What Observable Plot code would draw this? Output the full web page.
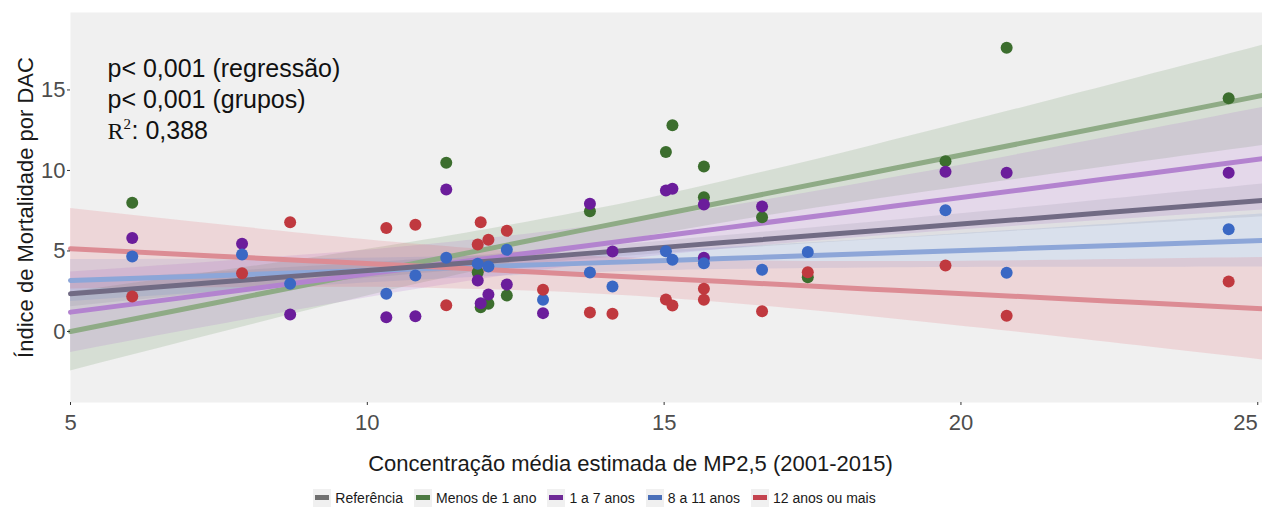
<!DOCTYPE html>
<html><head><meta charset="utf-8">
<script src="https://cdn.jsdelivr.net/npm/d3@7"></script>
<script src="https://cdn.jsdelivr.net/npm/@observablehq/plot@0.6"></script>
<style>
body{margin:0;background:#fff;font-family:"Liberation Sans",Arial,sans-serif;}
#chart svg{display:block;overflow:visible;}
#legend{display:flex;justify-content:center;align-items:center;height:31px;padding-top:4px;font-size:14px;color:#1a1a1a;padding-right:62px;}
.item{display:flex;align-items:center;margin-right:11px;}
.key{width:18px;height:18px;background:#f0f0f0;display:flex;align-items:center;justify-content:center;margin-right:4px;}
.key span{width:14px;height:5px;display:block;}
</style></head><body><div id="chart"></div><div id="legend"></div>
<script>
// ---- data ----
const groups = ["Referência", "Menos de 1 ano", "1 a 7 anos", "8 a 11 anos", "12 anos ou mais"];
const xTicks = [5, 10, 15, 20, 25];
const yTicks = [0, 5, 10, 15];

// observed points (MP2,5 concentration, mortality index)
const menos1X = [6.04, 11.33, 11.86, 11.91, 12.04, 12.35, 13.75, 15.03, 15.14, 15.67, 15.67, 16.65, 17.42, 19.74, 20.77, 24.51];
const menos1Y = [8.0, 10.48, 3.68, 1.51, 1.72, 2.24, 7.47, 11.14, 12.81, 10.25, 8.34, 7.10, 3.37, 10.58, 17.62, 14.49];
const a1a7X = [6.04, 7.89, 8.70, 10.32, 10.81, 11.33, 11.86, 11.91, 12.04, 12.35, 12.96, 13.75, 14.13, 15.03, 15.14, 15.67, 15.67, 16.65, 19.74, 20.77, 24.51];
const a1a7Y = [5.80, 5.45, 1.06, 0.89, 0.95, 8.82, 3.17, 1.76, 2.30, 2.92, 1.14, 7.93, 4.97, 8.76, 8.86, 7.89, 4.58, 7.76, 9.92, 9.86, 9.86];
const a8a11X = [6.04, 7.89, 8.70, 10.32, 10.81, 11.33, 11.86, 12.04, 12.35, 12.96, 13.75, 14.13, 15.03, 15.14, 15.67, 16.65, 17.42, 19.74, 20.77, 24.51];
const a8a11Y = [4.66, 4.78, 2.96, 2.34, 3.48, 4.58, 4.20, 4.04, 5.07, 1.97, 3.66, 2.80, 4.99, 4.45, 4.24, 3.83, 4.93, 7.53, 3.65, 6.35];
const a12X = [6.04, 7.89, 8.70, 10.32, 10.81, 11.33, 11.86, 11.91, 12.04, 12.35, 12.96, 13.75, 14.13, 15.03, 15.14, 15.67, 15.67, 16.65, 17.42, 19.74, 20.77, 24.51];
const a12Y = [2.17, 3.62, 6.79, 6.42, 6.63, 1.63, 5.40, 6.79, 5.70, 6.25, 2.59, 1.18, 1.10, 1.99, 1.61, 2.65, 1.97, 1.26, 3.68, 4.10, 0.98, 3.11];

// fitted lines and 95% bands
const fitX = [5, 7, 9, 11, 13.6, 16, 18.5, 21, 23, 25.08];
const refFit = [2.34, 2.92, 3.50, 4.07, 4.82, 5.52, 6.24, 6.96, 7.54, 8.14];
const refLo  = [1.54, 2.26, 2.97, 3.64, 4.45, 5.10, 5.69, 6.25, 6.68, 7.12];
const refHi  = [3.14, 3.58, 4.03, 4.50, 5.19, 5.94, 6.79, 7.67, 8.40, 9.16];
const menos1Fit = [0.00, 1.46, 2.92, 4.38, 6.28, 8.03, 9.86, 11.68, 13.14, 14.66];
const menos1Lo  = [-2.45, -0.56, 1.30, 3.07, 5.14, 6.74, 8.18, 9.49, 10.51, 11.55];
const menos1Hi  = [2.45, 3.48, 4.54, 5.69, 7.42, 9.32, 11.54, 13.87, 15.77, 17.77];
const a1a7Fit = [1.20, 2.15, 3.10, 4.05, 5.28, 6.42, 7.61, 8.79, 9.74, 10.73];
const a1a7Lo  = [-1.30, 0.09, 1.44, 2.71, 4.12, 5.11, 5.90, 6.56, 7.05, 7.55];
const a1a7Hi  = [3.70, 4.21, 4.76, 5.39, 6.44, 7.73, 9.32, 11.02, 12.43, 13.91];
const a8a11Fit = [3.17, 3.42, 3.66, 3.91, 4.23, 4.53, 4.84, 5.15, 5.39, 5.65];
const a8a11Lo  = [1.87, 2.35, 2.80, 3.21, 3.63, 3.85, 3.95, 3.99, 3.99, 4.00];
const a8a11Hi  = [4.47, 4.49, 4.52, 4.61, 4.83, 5.21, 5.73, 6.31, 6.79, 7.30];
const a12Fit = [5.14, 4.77, 4.40, 4.03, 3.54, 3.10, 2.63, 2.17, 1.80, 1.41];
const a12Lo  = [2.64, 2.71, 2.74, 2.69, 2.38, 1.79, 0.92, -0.06, -0.89, -1.77];
const a12Hi  = [7.64, 6.83, 6.06, 5.37, 4.70, 4.41, 4.34, 4.40, 4.49, 4.59];

const annotation = ["p< 0,001 (regressão)", "p< 0,001 (grupos)", ": 0,388"];
const xTitle = "Concentração média estimada de MP2,5 (2001-2015)";
const yTitle = "Índice de Mortalidade por DAC";

// ---- styles ----
const pointColor = {"Menos de 1 ano": "#3c6e2e", "1 a 7 anos": "#6b1d9b", "8 a 11 anos": "#3a68c4", "12 anos ou mais": "#c0393f"};
const lineColor = {"Referência": "#716b84", "Menos de 1 ano": "#8fab86", "1 a 7 anos": "#b383cf", "8 a 11 anos": "#8da6d8", "12 anos ou mais": "#dc8c94"};
const bandColor = {"Referência": "#6a6a80", "Menos de 1 ano": "#5a8a4e", "1 a 7 anos": "#a050c8", "8 a 11 anos": "#5a86d8", "12 anos ou mais": "#e05a66"};
const bandOpacity = {"Referência": 0.13, "Menos de 1 ano": 0.17, "1 a 7 anos": 0.15, "8 a 11 anos": 0.15, "12 anos ou mais": 0.17};
const keyColor = {"Referência": "#707070", "Menos de 1 ano": "#4d7a43", "1 a 7 anos": "#6e2a96", "8 a 11 anos": "#4a6fb8", "12 anos ou mais": "#c4434f"};

// ---- tables ----
const fits = {
  "Referência": [refFit, refLo, refHi],
  "Menos de 1 ano": [menos1Fit, menos1Lo, menos1Hi],
  "1 a 7 anos": [a1a7Fit, a1a7Lo, a1a7Hi],
  "8 a 11 anos": [a8a11Fit, a8a11Lo, a8a11Hi],
  "12 anos ou mais": [a12Fit, a12Lo, a12Hi]
};
const pts = {
  "Menos de 1 ano": [menos1X, menos1Y],
  "1 a 7 anos": [a1a7X, a1a7Y],
  "8 a 11 anos": [a8a11X, a8a11Y],
  "12 anos ou mais": [a12X, a12Y]
};
const bandTable = g => fitX.map((x, i) => ({x, fit: fits[g][0][i], lo: fits[g][1][i], hi: fits[g][2][i]}));
const ptTable = g => pts[g][0].map((x, i) => ({x, y: pts[g][1][i]}));

const bandOrder = ["Menos de 1 ano", "1 a 7 anos", "8 a 11 anos", "12 anos ou mais", "Referência"];
const lineOrder = ["Menos de 1 ano", "1 a 7 anos", "8 a 11 anos", "12 anos ou mais", "Referência"];
const pointOrder = ["Menos de 1 ano", "1 a 7 anos", "8 a 11 anos", "12 anos ou mais"];

const font = "'Liberation Sans', Arial, sans-serif";
const marks = [Plot.frame({fill: "#f0f0f0", stroke: null})];
for (const g of bandOrder) marks.push(Plot.areaY(bandTable(g), {x: "x", y1: "lo", y2: "hi", curve: "natural", fill: bandColor[g], fillOpacity: bandOpacity[g]}));
for (const g of lineOrder) marks.push(Plot.line(bandTable(g), {x: "x", y: "fit", curve: "natural", stroke: lineColor[g], strokeWidth: 5}));
for (const g of pointOrder) marks.push(Plot.dot(ptTable(g), {x: "x", y: "y", r: 6, fill: pointColor[g], stroke: null}));

marks.push(
  Plot.axisX({ticks: xTicks.filter(t => t < 25), tickSize: 3, tickPadding: 9, stroke: "#333", fill: "#4d4d4d", fontSize: 22, label: null}),
  Plot.axisX({ticks: xTicks.filter(t => t >= 25), tickSize: 3, tickPadding: 9, stroke: "#333", fill: "#4d4d4d", fontSize: 22, textAnchor: "end", label: null}),
  Plot.axisY({ticks: yTicks, tickSize: 3, tickPadding: 2, stroke: "#333", fill: "#4d4d4d", fontSize: 22, label: null}),
  Plot.text([yTitle], {frameAnchor: "left", dx: -45, rotate: -90, textAnchor: "middle", lineAnchor: "middle", fontSize: 22, fill: "#1a1a1a"}),
  Plot.text([xTitle], {frameAnchor: "bottom", dx: -36, dy: 61, textAnchor: "middle", lineAnchor: "middle", fontSize: 22, fill: "#1a1a1a"}),
  Plot.text([annotation[0]], {frameAnchor: "top-left", dx: 37, dy: 56, textAnchor: "start", lineAnchor: "middle", fontSize: 25, fill: "#111"}),
  Plot.text([annotation[1]], {frameAnchor: "top-left", dx: 37, dy: 87, textAnchor: "start", lineAnchor: "middle", fontSize: 25, fill: "#111"}),
  Plot.text(["R"], {frameAnchor: "top-left", dx: 37, dy: 119, textAnchor: "start", lineAnchor: "middle", fontSize: 24, fontFamily: "'Liberation Serif', serif", fill: "#111"}),
  Plot.text(["2"], {frameAnchor: "top-left", dx: 53, dy: 112, textAnchor: "start", lineAnchor: "middle", fontSize: 15, fontFamily: "'Liberation Serif', serif", fill: "#111"}),
  Plot.text([annotation[2]], {frameAnchor: "top-left", dx: 61, dy: 118, textAnchor: "start", lineAnchor: "middle", fontSize: 25, fill: "#111"})
);

const chart = Plot.plot({
  width: 1262, height: 478,
  marginLeft: 70, marginRight: 0, marginTop: 12, marginBottom: 76,
  x: {domain: [5, 25.08]},
  y: {domain: [-4.41, 19.81]},
  style: {fontFamily: font, background: "#fff", overflow: "visible"},
  marks
});
document.getElementById("chart").appendChild(chart);

const legend = document.getElementById("legend");
for (const g of groups) {
  const item = document.createElement("div");
  item.className = "item";
  item.innerHTML = `<div class="key"><span style="background:${keyColor[g]}"></span></div><span>${g}</span>`;
  legend.appendChild(item);
}
</script></body></html>
